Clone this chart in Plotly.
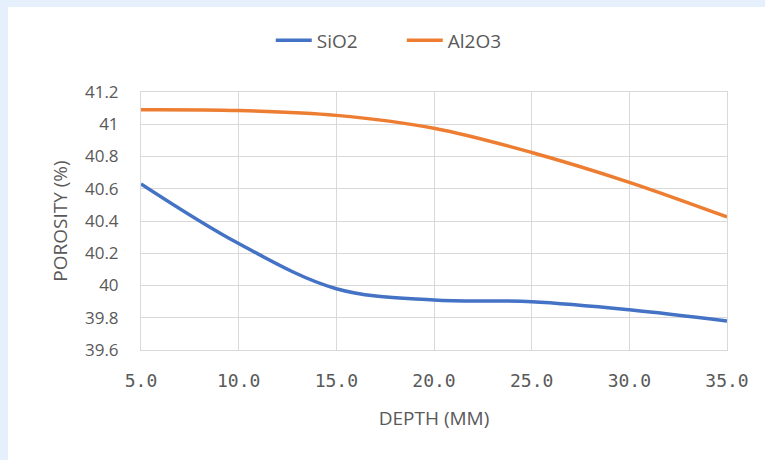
import plotly.graph_objects as go

depth = [5, 10, 15, 20, 25, 30, 35]
sio2 = [40.63, 40.26, 39.98, 39.91, 39.90, 39.85, 39.78]
al2o3 = [41.09, 41.085, 41.055, 40.975, 40.825, 40.64, 40.425]

x_ticks = [5, 10, 15, 20, 25, 30, 35]
x_labels = ["5.0", "10.0", "15.0", "20.0", "25.0", "30.0", "35.0"]
y_ticks = [39.6, 39.8, 40.0, 40.2, 40.4, 40.6, 40.8, 41.0, 41.2]
y_labels = ["39.6", "39.8", "40", "40.2", "40.4", "40.6", "40.8", "41", "41.2"]

GRID = "#d9d9d9"
TXT = "#595959"

fig = go.Figure()
fig.add_trace(go.Scatter(x=depth, y=sio2, name="SiO2", mode="lines",
                         line=dict(color="#4472C4", width=3.5, shape="spline", smoothing=1)))
fig.add_trace(go.Scatter(x=depth, y=al2o3, name="Al2O3", mode="lines",
                         line=dict(color="#ED7D31", width=3.5, shape="spline", smoothing=1)))

# white chart panel over light-blue page background
fig.add_shape(type="rect", xref="paper", yref="paper", xsizemode="pixel", ysizemode="pixel",
              xanchor=0, yanchor=1, x0=-133, x1=640, y0=85, y1=-400,
              fillcolor="white", line=dict(width=0), layer="below")

fig.update_layout(
    width=765, height=460,
    margin=dict(l=141, r=38, t=92, b=110),
    paper_bgcolor="#e6f0fc",
    plot_bgcolor="white",
    showlegend=True,
    legend=dict(orientation="h", x=0.445, xanchor="center", y=1.2, yanchor="middle",
                font=dict(family="Open Sans", size=19, color=TXT),
                bgcolor="rgba(0,0,0,0)", itemwidth=36, entrywidth=80),
    font=dict(family="Open Sans", color=TXT),
)
fig.update_xaxes(range=[5, 35], tickvals=x_ticks, ticktext=x_labels,
                 tickfont=dict(family="DejaVu Sans Mono", size=18, color=TXT),
                 showgrid=True, gridcolor=GRID, gridwidth=1,
                 showline=True, linecolor=GRID, linewidth=1, mirror=True,
                 zeroline=False, ticks="", ticklabelstandoff=14,
                 title=dict(text="DEPTH (MM)", font=dict(family="Open Sans", size=19, color=TXT), standoff=22))
fig.update_yaxes(range=[39.6, 41.2], tickvals=y_ticks, ticktext=y_labels,
                 tickfont=dict(family="Open Sans", size=17, color=TXT),
                 showgrid=True, gridcolor=GRID, gridwidth=1,
                 showline=True, linecolor=GRID, linewidth=1, mirror=True,
                 zeroline=False, ticks="", ticklabelstandoff=18,
                 title=dict(text="POROSITY (%)", font=dict(family="Open Sans", size=19, color=TXT), standoff=12))

fig.write_html("out.html")
